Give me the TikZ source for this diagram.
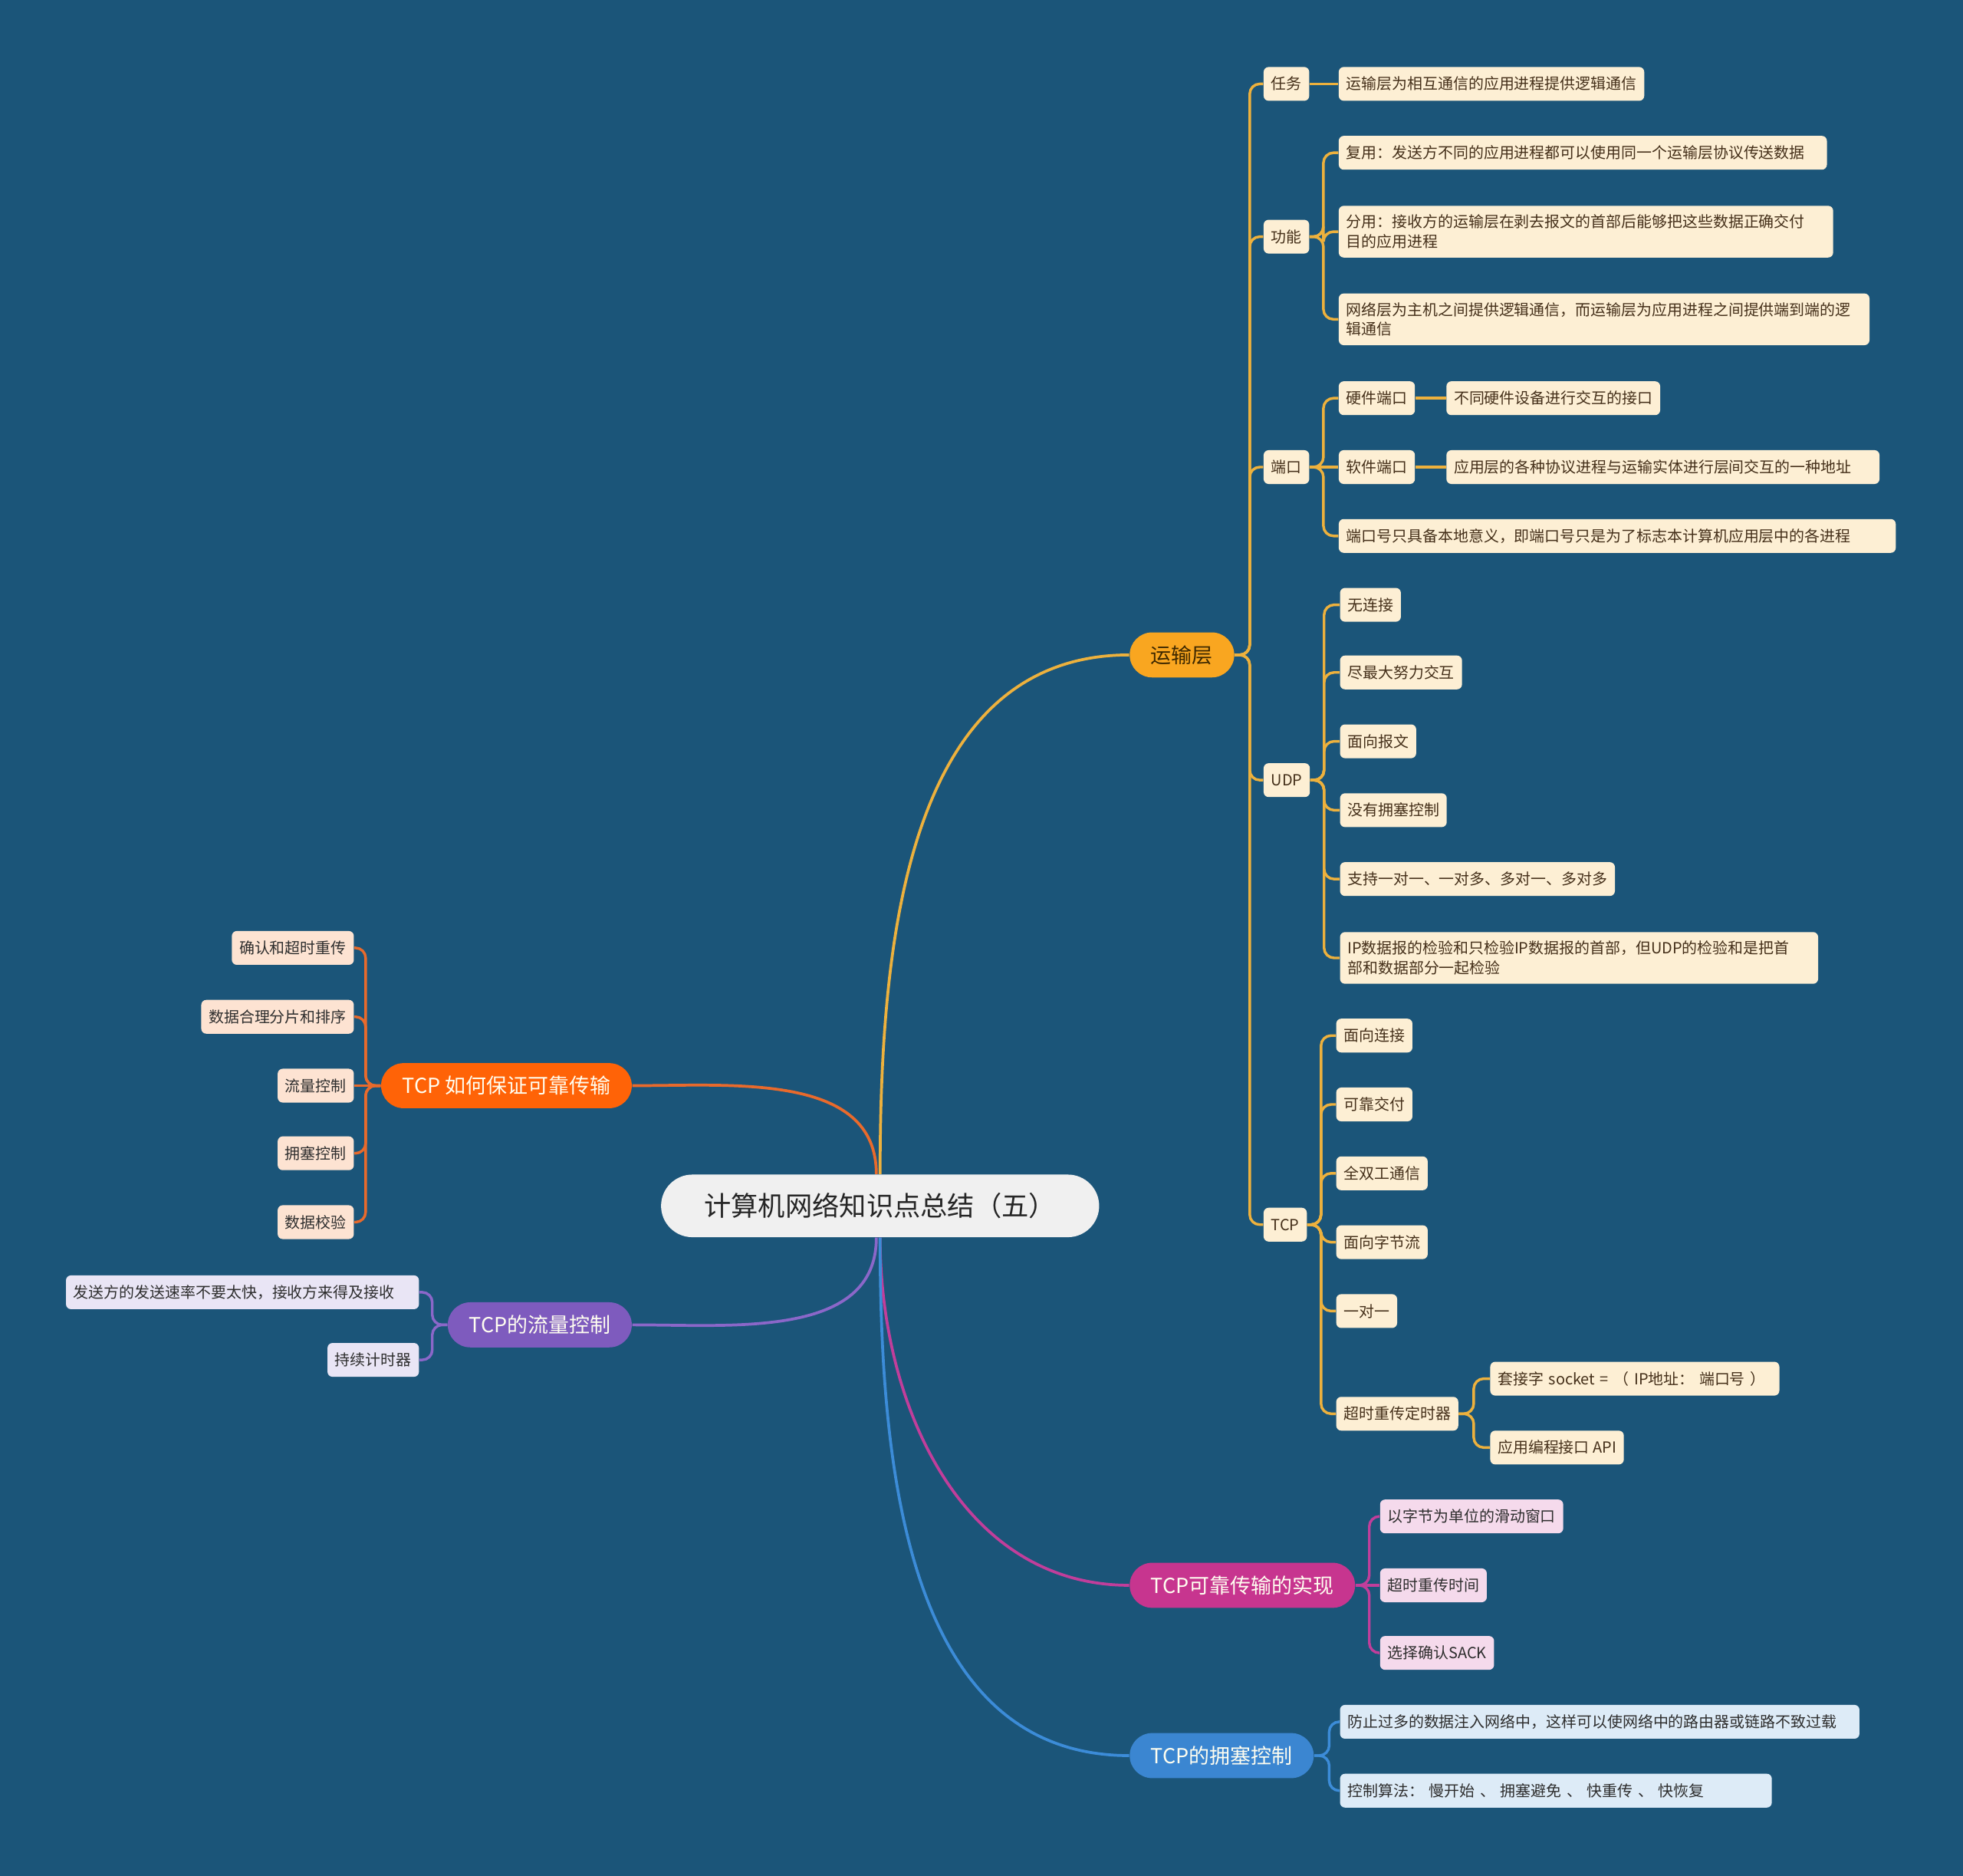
\documentclass[tikz,border=0pt]{standalone}
\usepackage{fontspec}
\setmainfont{Noto Sans CJK SC}
\usetikzlibrary{calc}

\definecolor{bgblue}{HTML}{1B5579}
\definecolor{ylwfill}{HTML}{F9A620}
\definecolor{ylwline}{HTML}{EDB13D}
\definecolor{ylwtext}{HTML}{3D2800}
\definecolor{cream}{HTML}{FDEFD4}
\definecolor{creamtext}{HTML}{45301A}
\definecolor{orgfill}{HTML}{FF6307}
\definecolor{orgline}{HTML}{E86A2C}
\definecolor{peach}{HTML}{FDE3D2}
\definecolor{purfill}{HTML}{7E5BBE}
\definecolor{purline}{HTML}{8B67C9}
\definecolor{lavender}{HTML}{E9E5F5}
\definecolor{magfill}{HTML}{C7358F}
\definecolor{magline}{HTML}{C13E9B}
\definecolor{pink}{HTML}{F5DAEC}
\definecolor{blufill}{HTML}{3B86D1}
\definecolor{bluline}{HTML}{3C8CD8}
\definecolor{skyblue}{HTML}{DDEBF7}

\tikzset{
    rootbox/.style={fill=black!6, text=black!85, rounded corners=0.5cm,
        minimum width=7cm, minimum height=1cm, font=\fontsize{12.3pt}{14pt}\selectfont},
    mainbox/.style={rounded corners=0.36cm, minimum height=0.72cm, inner xsep=0.34cm,
        text=white!94!yellow, font=\fontsize{9.4pt}{11pt}\selectfont},
    leaf/.style={rounded corners=0.08cm, minimum height=0.54cm, inner xsep=0.12cm,
        inner ysep=4pt, align=left, text=black!82, font=\fontsize{6.95pt}{9pt}\selectfont},
    ynode/.style={leaf, fill=cream, text=creamtext},
    rnode/.style={leaf, fill=peach},
    pnode/.style={leaf, fill=lavender},
    mnode/.style={leaf, fill=pink},
    bnode/.style={leaf, fill=skyblue},
    trunk/.style={line width=1.2pt, rounded corners=0.16cm},
    ylink/.style={trunk, draw=ylwline},
    rlink/.style={trunk, draw=orgline},
    plink/.style={trunk, draw=purline},
    mlink/.style={trunk, draw=magline},
    blink/.style={trunk, draw=bluline}
}

\begin{document}
\begin{tikzpicture}[x=0.02cm, y=-0.02cm]

    % background
    \fill[bgblue] (0,0) rectangle (1568,1498);
    \useasboundingbox (0,0) rectangle (1568,1498);

    % ==========================================
    % 1. Root and main branches
    % ==========================================
    \node[rootbox] (root) at (703,963) {计算机网络知识点总结（五）};

    \node[mainbox, fill=ylwfill, text=ylwtext, anchor=west] (transport) at (902,523) {运输层};
    \node[mainbox, fill=orgfill, anchor=east] (reliable) at (505,867) {TCP 如何保证可靠传输};
    \node[mainbox, fill=purfill, anchor=east] (flow) at (505,1058) {TCP的流量控制};
    \node[mainbox, fill=magfill, anchor=west] (impl) at (902,1266) {TCP可靠传输的实现};
    \node[mainbox, fill=blufill, anchor=west] (congest) at (902,1402) {TCP的拥塞控制};

    \draw[ylink, line width=1.3pt] (root.north) to[out=90, in=180] (transport.west);
    \draw[rlink, line width=1.3pt] ($(root.north)+(-3,0)$) to[out=90, in=0] (reliable.east);
    \draw[plink, line width=1.3pt] ($(root.south)+(-3,0)$) to[out=-90, in=0] (flow.east);
    \draw[mlink, line width=1.3pt] (root.south) to[out=-90, in=180] (impl.west);
    \draw[blink, line width=1.3pt] (root.south) to[out=-90, in=180] (congest.west);

    % ==========================================
    % 2. 运输层 subtree
    % ==========================================
    \node[ynode, anchor=west] (task) at (1009,67) {任务};
    \node[ynode, anchor=west] (func) at (1009,189) {功能};
    \node[ynode, anchor=west] (port) at (1009,373) {端口};
    \node[ynode, anchor=west] (udp) at (1009,623) {UDP};
    \node[ynode, anchor=west] (tcp) at (1009,978) {TCP};

    \draw[ylink] (transport.east) -- ++(12,0) |- (task.west);
    \draw[ylink] (transport.east) -- ++(12,0) |- (func.west);
    \draw[ylink] (transport.east) -- ++(12,0) |- (port.west);
    \draw[ylink] (transport.east) -- ++(12,0) |- (udp.west);
    \draw[ylink] (transport.east) -- ++(12,0) |- (tcp.west);

    % task / function
    \node[ynode, anchor=west] (taskdesc) at (1069,67) {运输层为相互通信的应用进程提供逻辑通信};
    \node[ynode, anchor=west, text width=7.56cm] (mux) at (1069,122) {复用：发送方不同的应用进程都可以使用同一个运输层协议传送数据};
    \node[ynode, anchor=west, text width=7.66cm] (demux) at (1069,185)
        {分用：接收方的运输层在剥去报文的首部后能够把这些数据正确交付\\目的应用进程};
    \node[ynode, anchor=west, text width=8.24cm] (netcmp) at (1069,255)
        {网络层为主机之间提供逻辑通信，而运输层为应用进程之间提供端到端的逻\\辑通信};

    \draw[ylink] (task.east) -- (taskdesc.west);
    \draw[ylink] (func.east) -- ++(11,0) |- (mux.west);
    \draw[ylink] (func.east) -- ++(11,0) |- (demux.west);
    \draw[ylink] (func.east) -- ++(11,0) |- (netcmp.west);

    % ports
    \node[ynode, anchor=west] (hwport) at (1069,318) {硬件端口};
    \node[ynode, anchor=west] (swport) at (1069,373) {软件端口};
    \node[ynode, anchor=west, text width=8.66cm] (portnum) at (1069,428) {端口号只具备本地意义，即端口号只是为了标志本计算机应用层中的各进程};
    \node[ynode, anchor=west] (hwdesc) at (1155,318) {不同硬件设备进行交互的接口};
    \node[ynode, anchor=west, text width=6.68cm] (swdesc) at (1155,373) {应用层的各种协议进程与运输实体进行层间交互的一种地址};

    \draw[ylink] (port.east) -- ++(11,0) |- (hwport.west);
    \draw[ylink] (port.east) -- (swport.west);
    \draw[ylink] (port.east) -- ++(11,0) |- (portnum.west);
    \draw[ylink] (hwport.east) -- (hwdesc.west);
    \draw[ylink] (swport.east) -- (swdesc.west);

    % UDP
    \node[ynode, anchor=west] (udpa) at (1070,483) {无连接};
    \node[ynode, anchor=west] (udpb) at (1070,537) {尽最大努力交互};
    \node[ynode, anchor=west] (udpc) at (1070,592) {面向报文};
    \node[ynode, anchor=west] (udpd) at (1070,647) {没有拥塞控制};
    \node[ynode, anchor=west] (udpe) at (1070,702) {支持一对一、一对多、多对一、多对多};
    \node[ynode, anchor=west, text width=7.4cm] (udpf) at (1070,765)
        {IP数据报的检验和只检验IP数据报的首部，但UDP的检验和是把首\\部和数据部分一起检验};

    \draw[ylink] (udp.east) -- ++(11,0) |- (udpa.west);
    \draw[ylink] (udp.east) -- ++(11,0) |- (udpb.west);
    \draw[ylink] (udp.east) -- ++(11,0) |- (udpc.west);
    \draw[ylink] (udp.east) -- ++(11,0) |- (udpd.west);
    \draw[ylink] (udp.east) -- ++(11,0) |- (udpe.west);
    \draw[ylink] (udp.east) -- ++(11,0) |- (udpf.west);

    % TCP
    \node[ynode, anchor=west] (tcpa) at (1067,827) {面向连接};
    \node[ynode, anchor=west] (tcpb) at (1067,882) {可靠交付};
    \node[ynode, anchor=west] (tcpc) at (1067,937) {全双工通信};
    \node[ynode, anchor=west] (tcpd) at (1067,992) {面向字节流};
    \node[ynode, anchor=west] (tcpe) at (1067,1047) {一对一};
    \node[ynode, anchor=west] (timer) at (1067,1129) {超时重传定时器};
    \node[ynode, anchor=west, text width=4.38cm] (socket) at (1190,1101) {套接字 socket = （ IP地址：\ 端口号 ）};
    \node[ynode, anchor=west] (api) at (1190,1156) {应用编程接口 API};

    \draw[ylink] (tcp.east) -- ++(11,0) |- (tcpa.west);
    \draw[ylink] (tcp.east) -- ++(11,0) |- (tcpb.west);
    \draw[ylink] (tcp.east) -- ++(11,0) |- (tcpc.west);
    \draw[ylink] (tcp.east) -- ++(11,0) |- (tcpd.west);
    \draw[ylink] (tcp.east) -- ++(11,0) |- (tcpe.west);
    \draw[ylink] (tcp.east) -- ++(11,0) |- (timer.west);
    \draw[ylink] (timer.east) -- ++(12,0) |- (socket.west);
    \draw[ylink] (timer.east) -- ++(12,0) |- (api.west);

    % ==========================================
    % 3. Left side: reliability and flow control
    % ==========================================
    \node[rnode, anchor=east] (ack) at (283,757) {确认和超时重传};
    \node[rnode, anchor=east] (segment) at (283,812) {数据合理分片和排序};
    \node[rnode, anchor=east] (flowctl) at (283,867) {流量控制};
    \node[rnode, anchor=east] (congctl) at (283,921) {拥塞控制};
    \node[rnode, anchor=east] (check) at (283,976) {数据校验};

    \draw[rlink] (reliable.west) -- ++(-12,0) |- (ack.east);
    \draw[rlink] (reliable.west) -- ++(-12,0) |- (segment.east);
    \draw[rlink] (reliable.west) -- (flowctl.east);
    \draw[rlink] (reliable.west) -- ++(-12,0) |- (congctl.east);
    \draw[rlink] (reliable.west) -- ++(-12,0) |- (check.east);

    \node[pnode, anchor=east, text width=5.4cm] (rate) at (335,1032) {发送方的发送速率不要太快，接收方来得及接收};
    \node[pnode, anchor=east] (persist) at (335,1086) {持续计时器};

    \draw[plink] (flow.west) -- ++(-12,0) |- (rate.east);
    \draw[plink] (flow.west) -- ++(-12,0) |- (persist.east);

    % ==========================================
    % 4. Bottom right: implementation and congestion control
    % ==========================================
    \node[mnode, anchor=west] (window) at (1102,1211) {以字节为单位的滑动窗口};
    \node[mnode, anchor=west] (rto) at (1102,1266) {超时重传时间};
    \node[mnode, anchor=west] (sack) at (1102,1320) {选择确认SACK};

    \draw[mlink] (impl.east) -- ++(11,0) |- (window.west);
    \draw[mlink] (impl.east) -- (rto.west);
    \draw[mlink] (impl.east) -- ++(11,0) |- (sack.west);

    \node[bnode, anchor=west, text width=8.06cm] (overload) at (1070,1375) {防止过多的数据注入网络中，这样可以使网络中的路由器或链路不致过载};
    \node[bnode, anchor=west, text width=6.66cm] (algo) at (1070,1430) {控制算法：\ 慢开始 、 拥塞避免 、 快重传 、 快恢复};

    \draw[blink] (congest.east) -- ++(12,0) |- (overload.west);
    \draw[blink] (congest.east) -- ++(12,0) |- (algo.west);

\end{tikzpicture}
\end{document}
